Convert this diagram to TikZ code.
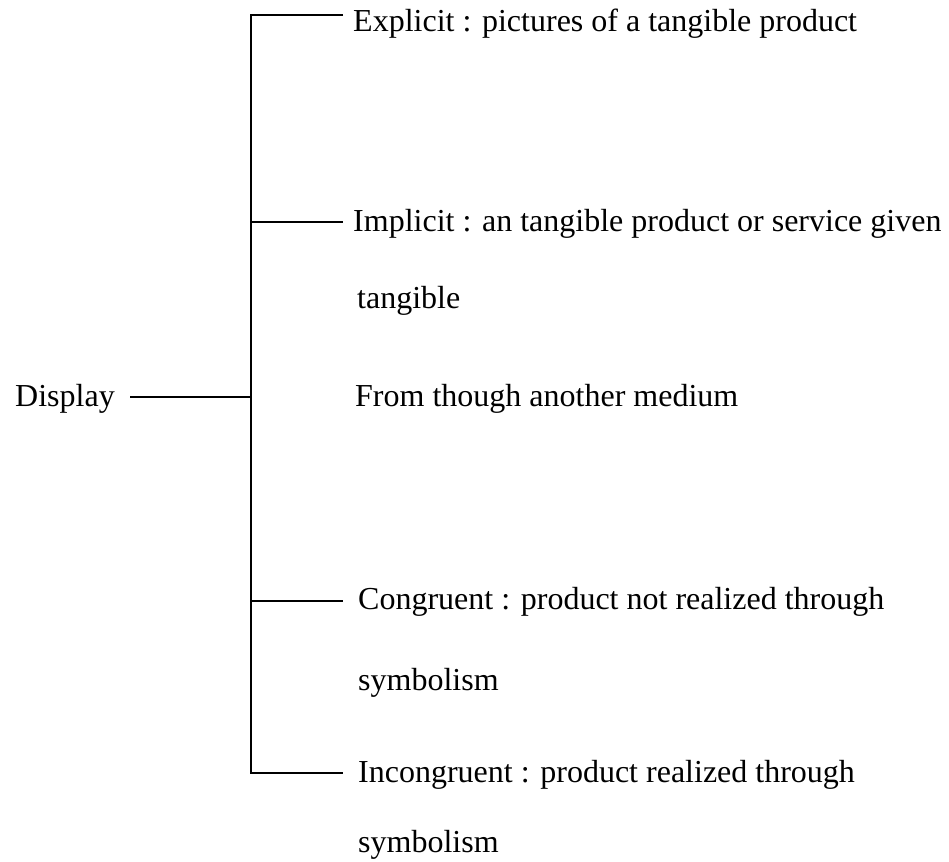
\documentclass[tikz,border=0pt]{standalone}
\usepackage{fontspec}
\setmainfont{Liberation Serif}
\begin{document}
\begin{tikzpicture}[x=1pt,y=-1pt,
  lbl/.style={anchor=base west, inner sep=0pt, font=\fontsize{32}{38}\selectfont},
  conn/.style={line width=2pt, line cap=butt, line join=miter}]
\useasboundingbox (0,0) rectangle (949,861);
% texts
\node[lbl] (disp)  at (15,406)  {Display};
\node[lbl] (expl)  at (353,32)  {Explicit : pictures of a tangible product};
\node[lbl] (impl)  at (353,231) {Implicit : an tangible product or service given};
\node[lbl] (impl2) at (357,308) {tangible};
\node[lbl] (impl3) at (355,406) {From though another medium};
\node[lbl] (cong)  at (358,609) {Congruent : product not realized through};
\node[lbl] (cong2) at (358,690) {symbolism};
\node[lbl] (inc)   at (358,782) {Incongruent : product realized through};
\node[lbl] (inc2)  at (358,852) {symbolism};
% junction points
\coordinate (vTop) at (251,15);
\coordinate (vBot) at (251,773);
\coordinate (eEnd) at (343,15);
\coordinate (iEnd) at (343,773);
\coordinate (vImp) at (251,222);
\coordinate (impEnd) at (343,222);
\coordinate (vCon) at (251,601);
\coordinate (conEnd) at (343,601);
\coordinate (vDis) at (251,397);
\coordinate (disStart) at (130,397);
% connectors
\draw[conn] (eEnd) -- (vTop) -- (vBot) -- (iEnd);
\draw[conn] (vImp) -- (impEnd);
\draw[conn] (vCon) -- (conEnd);
\draw[conn] (disStart) -- (vDis);
\end{tikzpicture}
\end{document}
